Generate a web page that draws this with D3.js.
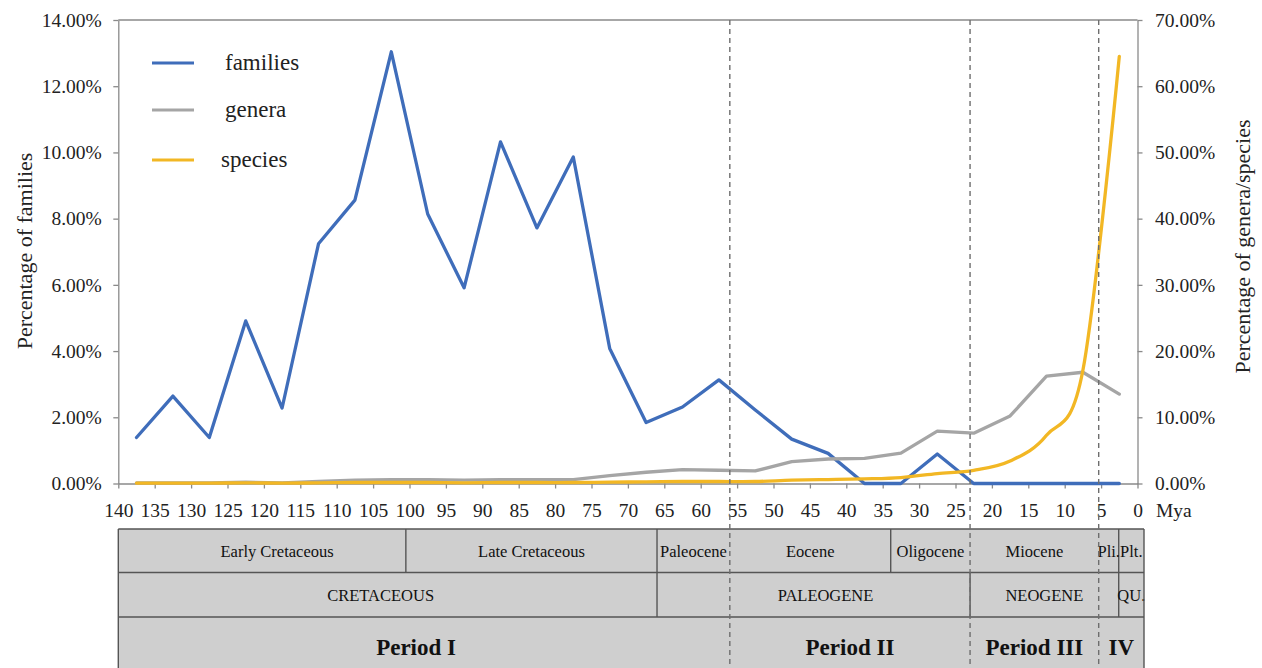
<!DOCTYPE html>
<html>
<head>
<meta charset="utf-8">
<script src="https://cdn.jsdelivr.net/npm/d3@7/dist/d3.min.js"></script>
<style>
  html, body { margin: 0; padding: 0; background: #fff; }
  svg, svg text { font-family: "Liberation Serif", "Times New Roman", serif; }
</style>
</head>
<body>
<script>
// Age bins (Mya, bin midpoints)
const ages = [137.5, 132.5, 127.5, 122.5, 117.5, 112.5, 107.5, 102.5, 97.5, 92.5,
              87.5, 82.5, 77.5, 72.5, 67.5, 62.5, 57.5, 52.5, 47.5, 42.5,
              37.5, 32.5, 27.5, 22.5, 17.5, 12.5, 7.5, 2.5];

// Percentage of families (left axis)
const families = [1.39, 2.64, 1.39, 4.91, 2.28, 7.24, 8.56, 13.04, 8.14, 5.91,
                  10.32, 7.72, 9.86, 4.08, 1.84, 2.31, 3.13, 2.22, 1.34, 0.91,
                  0, 0, 0.89, 0, 0, 0, 0, 0];

// Percentage of genera (right axis)
const genera = [0.1, 0.1, 0.1, 0.2, 0.1, 0.3, 0.5, 0.6, 0.6, 0.5,
                0.6, 0.6, 0.6, 1.2, 1.7, 2.1, 2.0, 1.9, 3.3, 3.7,
                3.8, 4.6, 7.9, 7.6, 10.2, 16.2, 16.8, 13.5];

// Percentage of species (right axis)
const species = [0.05, 0.05, 0.05, 0.1, 0.05, 0.1, 0.15, 0.15, 0.15, 0.1,
                 0.15, 0.15, 0.15, 0.2, 0.25, 0.3, 0.3, 0.3, 0.5, 0.6,
                 0.7, 0.9, 1.5, 2.0, 3.4, 7.3, 17.1, 64.5];

// Tick values
const xTicks = [140, 135, 130, 125, 120, 115, 110, 105, 100, 95, 90, 85, 80, 75,
                70, 65, 60, 55, 50, 45, 40, 35, 30, 25, 20, 15, 10, 5, 0];
const leftTicks = [0, 0.02, 0.04, 0.06, 0.08, 0.10, 0.12, 0.14];
const rightTicks = [0, 0.10, 0.20, 0.30, 0.40, 0.50, 0.60, 0.70];

// Period boundaries marked with dashed lines (Mya)
const periodMarkers = [56, 23, 5.33];

// Geological time scale rows
const epochs = [
  { name: "Early Cretaceous", from: 140, to: 100.5 },
  { name: "Late Cretaceous", from: 100.5, to: 66 },
  { name: "Paleocene", from: 66, to: 56 },
  { name: "Eocene", from: 56, to: 33.9 },
  { name: "Oligocene", from: 33.9, to: 23 },
  { name: "Miocene", from: 23, to: 5.33 },
  { name: "Pli.", from: 5.33, to: 2.58 },
  { name: "Plt.", from: 2.58, to: 0 }
];
const systems = [
  { name: "CRETACEOUS", from: 140, to: 66 },
  { name: "PALEOGENE", from: 66, to: 23 },
  { name: "NEOGENE", from: 23, to: 2.58 },
  { name: "QU.", from: 2.58, to: 0 }
];
const periods = [
  { name: "Period I", from: 140, to: 56 },
  { name: "Period II", from: 56, to: 23 },
  { name: "Period III", from: 23, to: 5.33 },
  { name: "IV", from: 5.33, to: 0 }
];

const seriesNames = ["families", "genera", "species"];
const seriesColors = ["#3F6DBA", "#A5A5A5", "#F2B724"];

// ---------------------------------------------------------------
const W = 1262, H = 668;
const plot = { left: 118.3, right: 1137.5, top: 20, bottom: 483.5 };
const axisColor = "#8a8a8a";
const FONT = "'Liberation Serif', 'Times New Roman', serif";

const svg = d3.select("body").append("svg").attr("width", W).attr("height", H);
svg.append("rect").attr("width", W).attr("height", H).attr("fill", "#fff");

const x = d3.scaleLinear().domain([140, 0]).range([plot.left, plot.right]);
const yL = d3.scaleLinear().domain([0, 0.14]).range([plot.bottom, plot.top]);
const yR = d3.scaleLinear().domain([0, 0.70]).range([plot.bottom, plot.top]);

// ---- geological time table ----
const rowsY = [529, 572.5, 617, H + 2];
const tableRight = x(0) + 6.5;
const edge = v => (v === 0 ? tableRight : x(v));
const table = svg.append("g");
const rows = [epochs, systems, periods];
const rowFont = [
  { size: 16.5, weight: "normal", base: 557 },
  { size: 16.5, weight: "normal", base: 600.5 },
  { size: 23, weight: "bold", base: 655 }
];
// small horizontal nudges for a few cell labels (px)
const labelNudge = { "Early Cretaceous": 15, "CRETACEOUS": -7, "PALEOGENE": 12, "Period I": -8 };

table.append("rect")
  .attr("x", x(140)).attr("y", rowsY[0])
  .attr("width", tableRight - x(140)).attr("height", rowsY[3] - rowsY[0])
  .attr("fill", "#cfcfcf");

rows.forEach((cells, r) => {
  // internal solid borders
  cells.slice(1).forEach(c => {
    const solid = r === 1 || (r === 0 && !periodMarkers.includes(c.from));
    if (solid) {
      table.append("line")
        .attr("x1", x(c.from)).attr("x2", x(c.from))
        .attr("y1", rowsY[r]).attr("y2", rowsY[r + 1])
        .attr("stroke", "#555").attr("stroke-width", 1.4);
    }
  });
  // labels
  table.selectAll(null).data(cells).enter().append("text")
    .attr("x", d => (x(d.from) + edge(d.to)) / 2 + (labelNudge[d.name] || 0))
    .attr("y", rowFont[r].base)
    .attr("text-anchor", "middle")
    .style("font-family", FONT)
    .attr("font-size", rowFont[r].size)
    .attr("font-weight", rowFont[r].weight)
    .attr("fill", "#111")
    .text(d => d.name);
});
// horizontal borders and outer edges
rowsY.slice(0, 3).forEach(yy => {
  table.append("line").attr("x1", x(140)).attr("x2", tableRight)
    .attr("y1", yy).attr("y2", yy).attr("stroke", "#555").attr("stroke-width", 1.4);
});
[x(140), tableRight].forEach(xx => {
  table.append("line").attr("x1", xx).attr("x2", xx)
    .attr("y1", rowsY[0]).attr("y2", H).attr("stroke", "#555").attr("stroke-width", 1.4);
});

// ---- axes ----
function styleAxis(g, fontSize) {
  g.attr("font-family", null);
  g.select(".domain").attr("stroke", axisColor).attr("stroke-width", 1.3);
  g.selectAll(".tick line").attr("stroke", axisColor).attr("stroke-width", 1.3);
  g.selectAll(".tick text").attr("fill", "#222")
    .style("font-family", FONT).style("font-size", fontSize + "px");
}

// top border
svg.append("line").attr("x1", plot.left).attr("x2", plot.right)
  .attr("y1", plot.top).attr("y2", plot.top)
  .attr("stroke", axisColor).attr("stroke-width", 1.3);

const gL = svg.append("g").attr("transform", `translate(${plot.left},0)`)
  .call(d3.axisLeft(yL).tickValues(leftTicks).tickFormat(d3.format(".2%"))
    .tickSize(5).tickSizeOuter(0).tickPadding(11.5));
styleAxis(gL, 19.5);

const gR = svg.append("g").attr("transform", `translate(${plot.right},0)`)
  .call(d3.axisRight(yR).tickValues(rightTicks).tickFormat(d3.format(".2%"))
    .tickSize(5).tickSizeOuter(0).tickPadding(12.5));
styleAxis(gR, 19.5);

const gB = svg.append("g").attr("transform", `translate(0,${plot.bottom})`)
  .call(d3.axisBottom(x).tickValues(xTicks).tickFormat(d3.format("d"))
    .tickSize(5).tickSizeOuter(0).tickPadding(14.7));
styleAxis(gB, 19.5);

svg.append("text").attr("x", 1156).attr("y", 517)
  .style("font-family", FONT)
  .attr("font-size", 19.5).attr("fill", "#222").text("Mya");

// axis titles
svg.append("text")
  .attr("transform", "translate(32,251) rotate(-90)")
  .attr("text-anchor", "middle").style("font-family", FONT)
  .attr("font-size", 22).attr("fill", "#222")
  .text("Percentage of families");
svg.append("text")
  .attr("transform", "translate(1250,246.5) rotate(-90)")
  .attr("text-anchor", "middle").style("font-family", FONT)
  .attr("font-size", 22).attr("fill", "#222")
  .text("Percentage of genera/species");

// ---- data lines ----
const lineL = d3.line().x((d, i) => x(ages[i])).y(d => yL(d / 100));
const lineR = d3.line().x((d, i) => x(ages[i])).y(d => yR(d / 100));
const lineRSmooth = d3.line().x((d, i) => x(ages[i])).y(d => yR(d / 100))
  .curve(d3.curveCatmullRom.alpha(0));

const lines = svg.append("g").attr("fill", "none")
  .attr("stroke-width", 3.3).attr("stroke-linejoin", "round").attr("stroke-linecap", "round");
lines.append("path").attr("d", lineL(families)).attr("stroke", seriesColors[0]);
lines.append("path").attr("d", lineR(genera)).attr("stroke", seriesColors[1]);
lines.append("path").attr("d", lineRSmooth(species)).attr("stroke", seriesColors[2]);

// ---- period markers (dashed) ----
svg.append("g").selectAll("line").data(periodMarkers).enter().append("line")
  .attr("x1", d => x(d)).attr("x2", d => x(d))
  .attr("y1", plot.top).attr("y2", H)
  .attr("stroke", "#6e6e6e").attr("stroke-width", 1.4)
  .attr("stroke-dasharray", "5,4");

// ---- legend ----
const legendY = [63, 110, 160];
const legendTextX = [225, 225, 221];
const legend = svg.append("g");
seriesNames.forEach((name, i) => {
  legend.append("line").attr("x1", 152).attr("x2", 194)
    .attr("y1", legendY[i]).attr("y2", legendY[i])
    .attr("stroke", seriesColors[i]).attr("stroke-width", 3);
  legend.append("text").attr("x", legendTextX[i]).attr("y", legendY[i] + 7)
    .style("font-family", FONT)
    .attr("font-size", 23).attr("fill", "#222").text(name);
});
</script>
</body>
</html>
